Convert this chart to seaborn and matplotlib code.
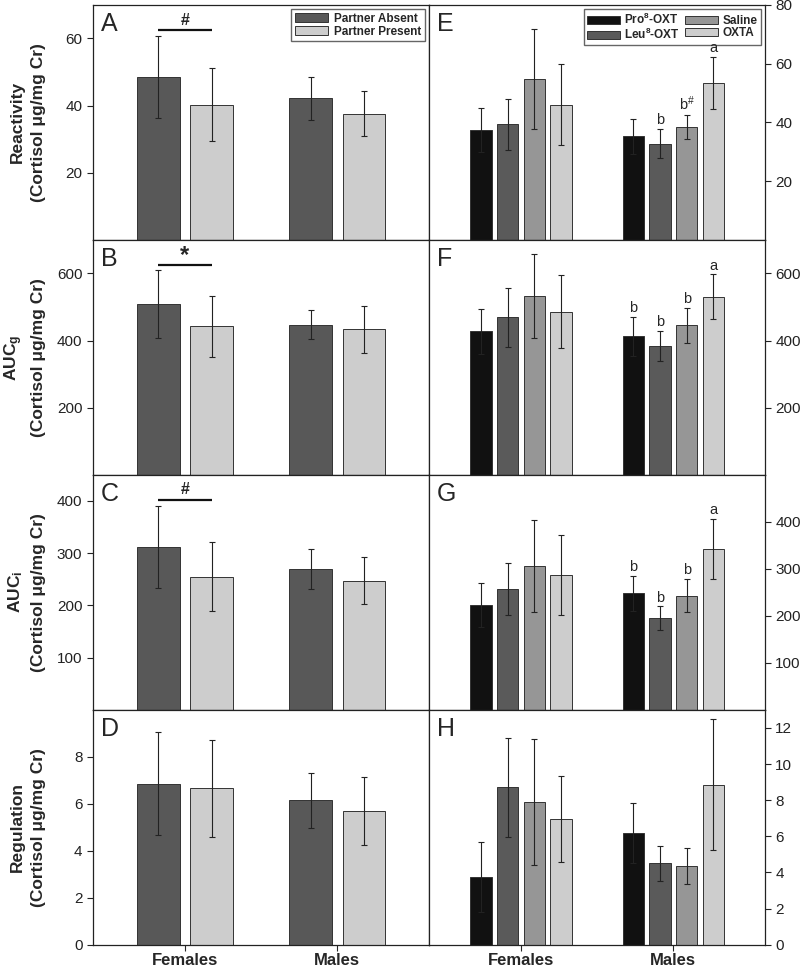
import matplotlib
matplotlib.use('Agg')
import matplotlib.pyplot as plt
import seaborn as sns
import pandas as pd

sns.set_style('ticks')
plt.rcParams['font.family'] = ['Liberation Sans', 'DejaVu Sans']
plt.rcParams['mathtext.fontset'] = 'custom'
plt.rcParams['mathtext.rm'] = 'Liberation Sans'
plt.rcParams['mathtext.bf'] = 'Liberation Sans:bold'
plt.rcParams['mathtext.it'] = 'Liberation Sans:italic'

sexes = ['Females', 'Males']
partner_groups = ['Partner Absent', 'Partner Present']
drug_groups = ['Pro$^\\mathbf{8}$-OXT', 'Leu$^\\mathbf{8}$-OXT', 'Saline', 'OXTA']
partner_colors = ['#585858', '#cdcdcd']
drug_colors = ['#111111', '#5a5a5a', '#969696', '#cdcdcd']

# mean and SEM, one row per group, columns = Females, Males
reactivity_partner = [[48.4, 42.1], [40.3, 37.6]]
reactivity_partner_se = [[12.2, 6.3], [11.0, 6.6]]
aucg_partner = [[509, 447], [442, 433]]
aucg_partner_se = [[101, 43], [90, 69]]
auci_partner = [[312, 269], [255, 247]]
auci_partner_se = [[78, 38], [66, 45]]
regulation_partner = [[6.85, 6.15], [6.65, 5.7]]
regulation_partner_se = [[2.2, 1.17], [2.05, 1.45]]

reactivity_drug = [[37.3, 35.2], [39.4, 32.7], [54.7, 38.4], [46.0, 53.4]]
reactivity_drug_se = [[7.5, 5.9], [8.7, 5.0], [17.0, 4.2], [13.7, 8.8]]
aucg_drug = [[428, 412], [469, 384], [532, 445], [486, 531]]
aucg_drug_se = [[67, 58], [88, 44], [125, 53], [108, 66]]
auci_drug = [[223, 248], [257, 195], [306, 243], [286, 342]]
auci_drug_se = [[47, 37], [55, 25], [97, 36], [85, 64]]
regulation_drug = [[3.76, 6.18], [8.71, 4.5], [7.89, 4.36], [6.97, 8.86]]
regulation_drug_se = [[1.95, 1.65], [2.73, 0.95], [3.48, 1.02], [2.37, 3.63]]

# letters above the male bars (E, F, G)
male_letters_e = ['', 'b', 'b$^{\\#}$', 'a']
male_letters_fg = ['b', 'b', 'b', 'a']

ylabels = ['Reactivity\n(Cortisol \u03bcg/mg Cr)',
           'AUC$_\\mathbf{g}$\n(Cortisol \u03bcg/mg Cr)',
           'AUC$_\\mathbf{i}$\n(Cortisol \u03bcg/mg Cr)',
           'Regulation\n(Cortisol \u03bcg/mg Cr)']


def draw(ax, means, ses, groups, colors, legend):
    rows = [(s, g, means[i][j]) for i, g in enumerate(groups) for j, s in enumerate(sexes)]
    df = pd.DataFrame(rows, columns=['sex', 'group', 'value'])
    sns.barplot(data=df, x='sex', y='value', hue='group', order=sexes, hue_order=groups,
                palette=colors, saturation=1, width=0.7, gap=0.2, edgecolor='#333333',
                linewidth=0.7, errorbar=None, legend=legend, ax=ax)
    tops = []
    for cont, se in zip(ax.containers, ses):
        xs = [b.get_x() + b.get_width() / 2 for b in cont]
        hs = [b.get_height() for b in cont]
        ax.errorbar(xs, hs, yerr=se, fmt='none', ecolor='#222222', elinewidth=0.8,
                    capsize=2.5, capthick=0.8, zorder=3)
        tops.append([(x, h + e) for x, h, e in zip(xs, hs, se)])
    return tops


fig, axes = plt.subplots(4, 2, figsize=(8, 9.67), dpi=100)
fig.subplots_adjust(left=0.116, right=0.956, top=0.995, bottom=0.023, hspace=0, wspace=0)

left_data = [(reactivity_partner, reactivity_partner_se), (aucg_partner, aucg_partner_se),
             (auci_partner, auci_partner_se), (regulation_partner, regulation_partner_se)]
right_data = [(reactivity_drug, reactivity_drug_se), (aucg_drug, aucg_drug_se),
              (auci_drug, auci_drug_se), (regulation_drug, regulation_drug_se)]
left_lims = [(0, 70), (0, 700), (0, 450), (0, 10)]
left_ticks = [[20, 40, 60], [200, 400, 600], [100, 200, 300, 400], [0, 2, 4, 6, 8]]
right_lims = [(0, 80), (0, 700), (0, 500), (0, 13)]
right_ticks = [[20, 40, 60, 80], [200, 400, 600], [100, 200, 300, 400], [0, 2, 4, 6, 8, 10, 12]]
letters = ['ABCD', 'EFGH']

for r in range(4):
    axl, axr = axes[r]
    tl = draw(axl, left_data[r][0], left_data[r][1], partner_groups, partner_colors, r == 0)
    tr = draw(axr, right_data[r][0], right_data[r][1], drug_groups, drug_colors, r == 0)

    for ax in (axl, axr):
        ax.set_xlim(-0.605, 1.6)
        ax.set_xlabel('')
        for sp in ax.spines.values():
            sp.set_visible(True)
            sp.set_color('#222222')
            sp.set_linewidth(0.9)
        ax.tick_params(axis='y', direction='out', length=4, width=0.8, labelsize=11,
                       colors='#222222')
        if r < 3:
            ax.tick_params(axis='x', bottom=False, labelbottom=False)
        else:
            ax.tick_params(axis='x', direction='out', length=4, width=0.8, pad=2)
            ax.set_xticks([0, 1])
            ax.set_xticklabels(sexes, fontsize=12, fontweight='bold')

    axl.set_ylim(*left_lims[r])
    axl.set_yticks(left_ticks[r])
    axl.set_ylabel(ylabels[r], fontsize=12.5, fontweight='bold', linespacing=1.5)
    axl.yaxis.set_label_coords(-0.14, 0.5)

    axr.set_ylim(*right_lims[r])
    axr.set_yticks(right_ticks[r])
    axr.yaxis.tick_right()
    axr.set_ylabel('')

    axl.text(0.025, 0.97, letters[0][r], transform=axl.transAxes, fontsize=18, va='top', ha='left')
    axr.text(0.025, 0.97, letters[1][r], transform=axr.transAxes, fontsize=18, va='top', ha='left')

    # significance bar between female bars
    if r < 3:
        x0 = tl[0][0][0]
        x1 = tl[1][0][0]
        ybar = [62.4, 625, 402][r]
        mark = ['#', '*', '#'][r]
        axl.plot([x0, x1], [ybar, ybar], color='#111111', lw=1.6, solid_capstyle='butt')
        off = left_lims[r][1] * (0.012 if mark == '#' else -0.01)
        axl.text((x0 + x1) / 2, ybar + off, mark, ha='center', va='bottom',
                 fontsize=17 if mark == '*' else 11.5, fontweight='bold')

    # letters above male drug bars
    if r < 3:
        labs = male_letters_e if r == 0 else male_letters_fg
        for g, lab in enumerate(labs):
            if lab:
                x, top = tr[g][1]
                axr.text(x, top + right_lims[r][1] * 0.008, lab, ha='center', va='bottom',
                         fontsize=10.5, zorder=6)

    if r == 0:
        sns.move_legend(axl, 'upper right', title=None, frameon=True, fancybox=False,
                        prop={'weight': 'bold', 'size': 8.5}, borderaxespad=0.35,
                        handlelength=2.8, handleheight=0.75, labelspacing=0.1,
                        handletextpad=0.5, borderpad=0.3, edgecolor='#666666',
                        framealpha=1)
        sns.move_legend(axr, 'upper right', title=None, frameon=True, fancybox=False,
                        ncol=2, prop={'weight': 'bold', 'size': 8.5}, borderaxespad=0.35,
                        handlelength=2.8, handleheight=0.7, labelspacing=0.0,
                        columnspacing=0.4, handletextpad=0.4,
                        borderpad=0.25, edgecolor='#666666', framealpha=1)

fig.savefig('out.png', dpi=100)
